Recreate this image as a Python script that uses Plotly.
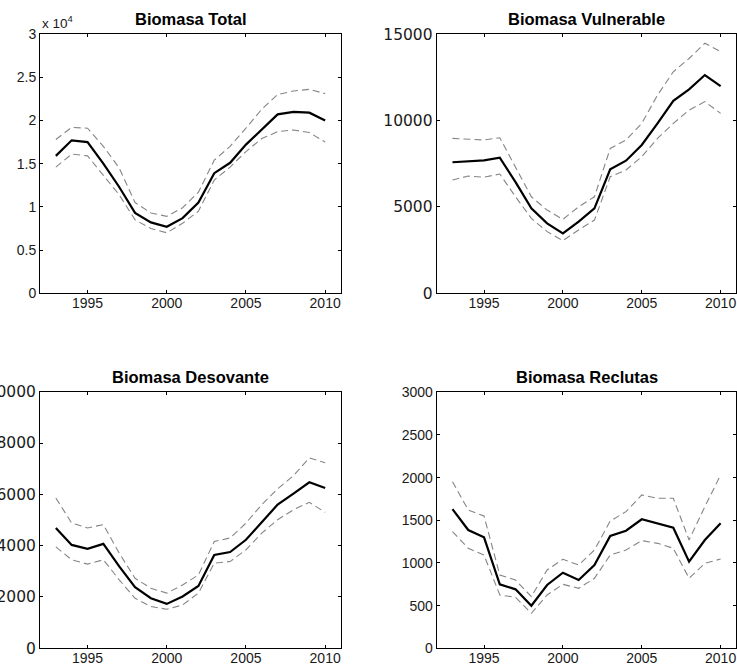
import plotly.graph_objects as go

years = list(range(1993, 2011))

# Biomasa Total
total_mid = [15900, 17700, 17500, 15000, 12300, 9300, 8200, 7700, 8700, 10500, 13900, 15100, 17200, 19000, 20700, 21000, 20900, 20000]
total_up = [17800, 19200, 19100, 17000, 14500, 10500, 9300, 8900, 9900, 11700, 15400, 17000, 19100, 21300, 23000, 23400, 23600, 23100]
total_lo = [14600, 16100, 15900, 13700, 11400, 8500, 7500, 7000, 8100, 9500, 13100, 14600, 16400, 17900, 18700, 18900, 18600, 17500]

# Biomasa Vulnerable
vul_mid = [7590, 7640, 7700, 7850, 6440, 4920, 4050, 3470, 4150, 4920, 7180, 7680, 8590, 9840, 11150, 11810, 12640, 12000]
vul_up = [8970, 8920, 8880, 9010, 7330, 5590, 4820, 4280, 5010, 5590, 8390, 8880, 9840, 11480, 12830, 13600, 14480, 14000]
vul_lo = [6560, 6790, 6720, 6910, 5590, 4340, 3570, 3050, 3670, 4240, 6750, 7140, 7910, 8970, 9840, 10610, 11100, 10420]

# Biomasa Desovante
des_mid = [4690, 4030, 3880, 4070, 3190, 2380, 1950, 1730, 2020, 2430, 3640, 3750, 4230, 4910, 5600, 6030, 6470, 6250]
des_up = [5860, 4880, 4690, 4820, 3710, 2730, 2340, 2150, 2470, 2860, 4160, 4300, 4880, 5600, 6210, 6730, 7420, 7230]
des_lo = [3950, 3450, 3280, 3450, 2670, 1950, 1630, 1520, 1690, 2150, 3320, 3380, 3840, 4490, 5010, 5400, 5690, 5300]

# Biomasa Reclutas
rec_mid = [1632, 1386, 1301, 750, 691, 499, 742, 886, 800, 976, 1316, 1378, 1512, 1465, 1413, 1015, 1269, 1465]
rec_up = [1952, 1621, 1550, 859, 800, 605, 918, 1043, 976, 1152, 1492, 1601, 1797, 1758, 1758, 1269, 1660, 2031]
rec_lo = [1367, 1172, 1093, 625, 598, 410, 625, 750, 703, 820, 1093, 1152, 1261, 1230, 1172, 820, 996, 1046]

titles = ["Biomasa Total", "Biomasa Vulnerable", "Biomasa Desovante", "Biomasa Reclutas"]
x_ticks = [1995, 2000, 2005, 2010]
total_ticks = [0, 5000, 10000, 15000, 20000, 25000, 30000]
total_ticktext = ["0", "0.5", "1", "1.5", "2", "2.5", "3"]
vul_ticks = [0, 5000, 10000, 15000]
des_ticks = [0, 2000, 4000, 6000, 8000, 10000]
rec_ticks = [0, 500, 1000, 1500, 2000, 2500, 3000]

W, H = 737, 669
FONT = "Liberation Sans, Arial, sans-serif"
WIDE = "DejaVu Sans, sans-serif"

panels = [
    (total_mid, total_up, total_lo, [0, 30000], total_ticks, total_ticktext, (40, 341), (34, 293.3), (FONT, 14)),
    (vul_mid, vul_up, vul_lo, [0, 15000], vul_ticks, [str(v) for v in vul_ticks], (436.7, 736.4), (34.3, 293.3), (WIDE, 15.5)),
    (des_mid, des_up, des_lo, [0, 10000], des_ticks, [str(v) for v in des_ticks], (40, 341), (391.7, 648.3), (WIDE, 15.5)),
    (rec_mid, rec_up, rec_lo, [0, 3000], rec_ticks, [str(v) for v in rec_ticks], (436.7, 736.4), (392.3, 648.3), (FONT, 14)),
]

fig = go.Figure()
layout = {}
annotations = []
for i, (mid, up, lo, yr, yt, ytt, xpx, ypx, yfont) in enumerate(panels):
    n = i + 1
    xa = "x" if n == 1 else f"x{n}"
    ya = "y" if n == 1 else f"y{n}"
    for s in (up, lo):
        fig.add_trace(go.Scatter(x=years, y=s, mode="lines", xaxis=xa, yaxis=ya,
                                 line=dict(color="#858585", width=1.1, dash="7px,4px"),
                                 showlegend=False, hoverinfo="skip"))
    fig.add_trace(go.Scatter(x=years, y=mid, mode="lines", xaxis=xa, yaxis=ya,
                             line=dict(color="black", width=2.2),
                             showlegend=False))
    xd = [xpx[0] / W, xpx[1] / W]
    yd = [(H - ypx[1]) / H, (H - ypx[0]) / H]
    common = dict(showline=True, linecolor="black", linewidth=1, mirror="ticks",
                  ticks="inside", ticklen=3, tickcolor="black", showgrid=False,
                  zeroline=False, automargin=False)
    layout["xaxis" if n == 1 else f"xaxis{n}"] = dict(
        domain=xd, range=[1992, 2011], tickvals=x_ticks, anchor=ya,
        ticklabelstandoff=-3,
        tickfont=dict(family=FONT, size=14, color="#1a1a1a"), **common)
    layout["yaxis" if n == 1 else f"yaxis{n}"] = dict(
        domain=yd, range=yr, tickvals=yt, ticktext=ytt, anchor=xa,
        tickfont=dict(family=yfont[0], size=yfont[1], color="#1a1a1a"), **common)
    annotations.append(dict(text=f"<b>{titles[i]}</b>", xref="paper", yref="paper",
                            x=(xpx[0] + xpx[1]) / 2 / W, y=(H - (ypx[0] - 15)) / H,
                            xanchor="center", yanchor="middle", showarrow=False,
                            font=dict(family=FONT, size=16.5, color="black")))

annotations.append(dict(text="x 10<sup>4</sup>", xref="paper", yref="paper",
                        x=40 / W, y=(H - 22) / H, xanchor="left", yanchor="middle",
                        showarrow=False, font=dict(family=FONT, size=13.5, color="#1a1a1a")))

fig.update_layout(width=W, height=H, margin=dict(l=0, r=0, t=0, b=0),
                  template="none", paper_bgcolor="white", plot_bgcolor="white",
                  annotations=annotations, **layout)

fig.write_html("out.html", config={"displayModeBar": False},
               post_script="document.body.style.margin='0px';document.body.style.overflow='hidden';")
